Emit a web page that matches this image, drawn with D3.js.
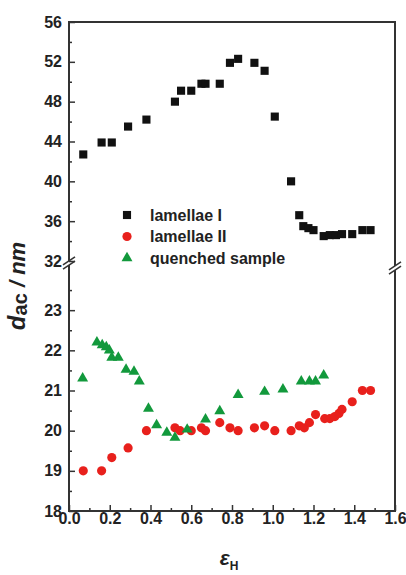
<!DOCTYPE html>
<html>
<head>
<meta charset="utf-8">
<script src="https://cdn.jsdelivr.net/npm/d3@7"></script>
<style>
  body { margin: 0; background: #fff; }
  svg { display: block; font-family: "Liberation Sans", Arial, sans-serif; }
  .tick text { font-size: 16px; font-weight: bold; fill: #222; }
</style>
</head>
<body>
<svg id="chart" width="406" height="575"></svg>
<script>
// lamellae I (upper panel)
let lamIx = [0.07, 0.16, 0.21, 0.29, 0.38, 0.52, 0.55, 0.60, 0.65, 0.67, 0.74, 0.79, 0.83, 0.91, 0.96, 1.01, 1.09,
             1.13, 1.15, 1.175, 1.20, 1.25, 1.28, 1.31, 1.34, 1.39, 1.44, 1.48];
let lamIy = [42.7, 43.9, 43.9, 45.5, 46.2, 48.0, 49.1, 49.1, 49.8, 49.8, 49.8, 51.9, 52.3, 51.9, 51.1, 46.5, 40.0,
             36.6, 35.5, 35.3, 35.1, 34.5, 34.6, 34.6, 34.7, 34.7, 35.1, 35.1];

// lamellae II (lower panel)
let lamIIx = [0.07, 0.16, 0.21, 0.29, 0.38, 0.52, 0.545, 0.60, 0.65, 0.67, 0.74, 0.79, 0.83, 0.91, 0.96, 1.01, 1.09,
              1.13, 1.155, 1.18, 1.21, 1.255, 1.28, 1.305, 1.325, 1.34, 1.39, 1.44, 1.48];
let lamIIy = [19.0, 19.0, 19.33, 19.57, 20.0, 20.07, 20.0, 20.0, 20.07, 20.0, 20.2, 20.07, 20.0, 20.07, 20.12, 20.0, 20.0,
              20.12, 20.07, 20.2, 20.4, 20.3, 20.3, 20.35, 20.43, 20.53, 20.72, 21.0, 21.0];

// quenched sample (lower panel)
let quenX = [0.067, 0.137, 0.163, 0.183, 0.198, 0.21, 0.242, 0.28, 0.319, 0.345, 0.39, 0.43, 0.48, 0.52, 0.58,
             0.67, 0.74, 0.83, 0.96, 1.05, 1.14, 1.18, 1.21, 1.25];
let quenY = [21.3, 22.2, 22.13, 22.08, 22.0, 21.82, 21.82, 21.52, 21.47, 21.23, 20.55, 20.14, 19.95, 19.83, 20.03,
             20.28, 20.49, 20.89, 20.97, 21.03, 21.23, 21.23, 21.23, 21.38];

let legendNames = ["lamellae I", "lamellae II", "quenched sample"];
let xTicks = [0.0, 0.2, 0.4, 0.6, 0.8, 1.0, 1.2, 1.4, 1.6];
let xMinor = [0.1, 0.3, 0.5, 0.7, 0.9, 1.1, 1.3, 1.5];
let topTicks = [32, 36, 40, 44, 48, 52, 56];
let topMinor = [34, 38, 42, 46, 50, 54];
let botTicks = [18, 19, 20, 21, 22, 23];
let botMinor = [18.5, 19.5, 20.5, 21.5, 22.5, 23.5];

let pLeft = 69, pRight = 395, pTop = 22, pBottom = 511;
let breakTop = 261, breakBot = 270;
let axisCol = "#333";

let svg = d3.select("#chart");

let xScale = d3.scaleLinear().domain([0, 1.6]).range([pLeft, pRight]);
let yTop = d3.scaleLinear().domain([32, 56]).range([breakTop, pTop]);
let yBot = d3.scaleLinear().domain([18, 24]).range([pBottom, breakBot]);

// axes (ticks inside)
function drawAxis(axis, tx, ty) {
    let g = svg.append("g").attr("transform", "translate(" + [tx, ty] + ")").call(axis);
    g.select(".domain").remove();
    g.selectAll("line").attr("stroke", axisCol).attr("stroke-width", 1.5);
    return g;
}
let fmtInt = d3.format("d");
drawAxis(d3.axisBottom(xScale).tickValues(xTicks).tickFormat(d3.format(".1f")).tickSize(-6).tickPadding(2), 0, pBottom);
drawAxis(d3.axisBottom(xScale).tickValues(xMinor).tickFormat("").tickSize(-3), 0, pBottom);
drawAxis(d3.axisLeft(yTop).tickValues(topTicks).tickFormat(fmtInt).tickSize(-6).tickPadding(7), pLeft, 0);
drawAxis(d3.axisLeft(yTop).tickValues(topMinor).tickFormat("").tickSize(-3), pLeft, 0);
drawAxis(d3.axisLeft(yBot).tickValues(botTicks).tickFormat(fmtInt).tickSize(-6).tickPadding(7), pLeft, 0);
drawAxis(d3.axisLeft(yBot).tickValues(botMinor).tickFormat("").tickSize(-3), pLeft, 0);

// frame with axis breaks
let frame = svg.append("g").attr("stroke", axisCol).attr("stroke-width", 2).attr("fill", "none");
frame.append("line").attr("x1", pLeft).attr("x2", pRight).attr("y1", pTop).attr("y2", pTop);
frame.append("line").attr("x1", pLeft).attr("x2", pRight).attr("y1", pBottom).attr("y2", pBottom);
let lb = 263, rb = 268;
frame.append("line").attr("x1", pLeft).attr("x2", pLeft).attr("y1", pTop - 1).attr("y2", lb - 2);
frame.append("line").attr("x1", pLeft).attr("x2", pLeft).attr("y1", lb + 2).attr("y2", pBottom + 1);
frame.append("line").attr("x1", pRight).attr("x2", pRight).attr("y1", pTop - 1).attr("y2", rb - 2);
frame.append("line").attr("x1", pRight).attr("x2", pRight).attr("y1", rb + 2).attr("y2", pBottom + 1);
[[pLeft, lb], [pRight, rb]].forEach(function (b) {
    [-2.2, 2.2].forEach(function (o) {
        frame.append("line").attr("stroke-width", 1.5)
            .attr("x1", b[0] - 6).attr("y1", b[1] + o + 4)
            .attr("x2", b[0] + 6).attr("y2", b[1] + o - 4);
    });
});

// markers
let sq = d3.symbol().type(d3.symbolSquare).size(66);
let ci = d3.symbol().type(d3.symbolCircle).size(66);
let tr = d3.symbol().type(d3.symbolTriangle).size(52);
let colors = ["#111111", "#e8201c", "#12993c"];

svg.append("g").selectAll("path").data(lamIx).enter().append("path")
    .attr("d", sq)
    .attr("transform", (d, i) => "translate(" + [xScale(d), yTop(lamIy[i])] + ")")
    .attr("fill", colors[0]);
svg.append("g").selectAll("path").data(lamIIx).enter().append("path")
    .attr("d", ci)
    .attr("transform", (d, i) => "translate(" + [xScale(d), yBot(lamIIy[i])] + ")")
    .attr("fill", colors[1]);
svg.append("g").selectAll("path").data(quenX).enter().append("path")
    .attr("d", tr)
    .attr("transform", (d, i) => "translate(" + [xScale(d), yBot(quenY[i])] + ")")
    .attr("fill", colors[2]);

// legend
let syms = [sq, ci, tr];
let leg = svg.append("g").attr("transform", "translate(127,215)");
legendNames.forEach(function (name, i) {
    leg.append("path").attr("d", syms[i]).attr("fill", colors[i])
        .attr("transform", "translate(0," + (i * 21.5) + ")");
    leg.append("text").attr("x", 23).attr("y", i * 21.5 + 5.5)
        .attr("font-size", 16).attr("font-weight", "bold").attr("fill", "#222")
        .text(name);
});

// axis titles
let yl = svg.append("text").attr("transform", "translate(25,286) rotate(-90)")
    .attr("text-anchor", "middle").attr("font-weight", "bold").attr("fill", "#222");
yl.append("tspan").attr("font-size", 24).attr("font-style", "italic").text("d");
yl.append("tspan").attr("font-size", 20).attr("dy", 2).text("ac");
yl.append("tspan").attr("font-size", 22).attr("dy", -2).attr("font-style", "italic").text(" / nm");

let xl = svg.append("text").attr("x", 229).attr("y", 565)
    .attr("text-anchor", "middle").attr("font-weight", "bold").attr("fill", "#222");
xl.append("tspan").attr("font-size", 21).attr("font-style", "italic").text("ε");
xl.append("tspan").attr("font-size", 12).attr("dy", 5).text("H");
</script>
</body>
</html>
